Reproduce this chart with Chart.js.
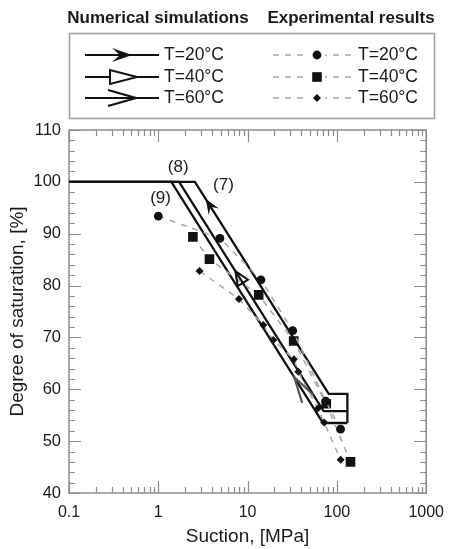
<!DOCTYPE html>
<html>
<head>
<meta charset="utf-8">
<script src="https://cdn.jsdelivr.net/npm/chart.js@4.4.1/dist/chart.umd.min.js"></script>
<style>
  html, body { margin: 0; padding: 0; background: #fff; }
  canvas { display: block; }
</style>
</head>
<body>
<canvas id="chart" width="454" height="549"></canvas>
<script>
// Numerical simulations: suction [MPa] and degree of saturation [%]
const sim20Suction = [0.1, 2.57, 81, 131, 131];
const sim20Sr = [100, 100, 59.1, 59.1, 53.5];
const sim40Suction = [0.1, 1.71, 71, 131];
const sim40Sr = [100, 100, 55.8, 55.8];
const sim60Suction = [0.1, 1.40, 70, 131];
const sim60Sr = [100, 100, 53.5, 53.5];
// suction at which each simulated path shows its direction arrow
const arrowSuction = [3.4, 7.3, 33.3];

// Experimental results
const exp20Suction = [1.0, 4.9, 14.1, 32, 75, 110];
const exp20Sr = [93.4, 89.1, 81.1, 71.3, 57.7, 52.3];
const exp40Suction = [2.44, 3.74, 13.3, 32.8, 76, 142];
const exp40Sr = [89.4, 85.1, 78.2, 69.3, 57.2, 46];
const exp60Suction = [2.9, 8.0, 15, 19.4, 33, 37, 61, 72, 110];
const exp60Sr = [82.8, 77.4, 72.4, 69.5, 65.8, 63.4, 56.3, 53.6, 46.4];

const tempLabels = ['T=20°C', 'T=40°C', 'T=60°C'];
const xTickLabels = ['0.1', '1', '10', '100', '1000'];
const yTickLabels = ['40', '50', '60', '70', '80', '90', '100', '110'];

const FONT = "'Liberation Sans', Arial, Helvetica, sans-serif";
const TEXT = '#1a1a1a';
const AXIS = '#8c8c8c';

const toPts = (xs, ys) => xs.map((x, i) => ({ x: x, y: ys[i] }));

// tick positions: decades plus 2..9 minors on x, every 2 % on y
const xDecades = xTickLabels.map(Number);
const xTicks = [];
xDecades.forEach((d, i) => {
    xTicks.push(d);
    if (i < xDecades.length - 1) for (let k = 2; k <= 9; k++) xTicks.push(k * d);
});
const yMajor = yTickLabels.map(Number);
const yTicks = [];
for (let v = yMajor[0]; v <= yMajor[yMajor.length - 1]; v += 2) yTicks.push(v);

// text markers on the plot
const notes = [
    { text: '(7)', x: 5.37, y: 99.4 },
    { text: '(8)', x: 1.67, y: 102.9 },
    { text: '(9)', x: 1.06, y: 96.9 }
];

function drawArrow(ctx, x, y, angle, style, L, W, color, fillOpen) {
    ctx.save();
    ctx.translate(x, y);
    ctx.rotate(angle);
    ctx.beginPath();
    if (style === 'stealth') {
        ctx.moveTo(0, 0);
        ctx.lineTo(-L, -W);
        ctx.lineTo(-0.6 * L, 0);
        ctx.lineTo(-L, W);
        ctx.closePath();
        ctx.fillStyle = color;
        ctx.fill();
    } else if (style === 'open') {
        ctx.moveTo(0, 0);
        ctx.lineTo(-L, -W);
        ctx.lineTo(-L, W);
        ctx.closePath();
        if (fillOpen) { ctx.fillStyle = '#fff'; ctx.fill(); }
        ctx.lineWidth = 2;
        ctx.strokeStyle = color;
        ctx.stroke();
    } else {
        ctx.moveTo(-L, -W);
        ctx.lineTo(0, 0);
        ctx.lineTo(-L, W);
        ctx.lineWidth = 2.2;
        ctx.lineJoin = 'miter';
        ctx.strokeStyle = color;
        ctx.stroke();
    }
    ctx.restore();
}

// box around the plot with inward ticks on all four sides
const framePlugin = {
    id: 'frame',
    beforeDatasetsDraw(chart) {
        const { ctx, chartArea: a, scales: { x, y } } = chart;
        ctx.save();
        ctx.strokeStyle = AXIS;
        ctx.lineWidth = 1.5;
        ctx.strokeRect(a.left, a.top, a.right - a.left, a.bottom - a.top);
        ctx.lineWidth = 1.2;
        ctx.beginPath();
        xTicks.forEach(v => {
            const px = Math.round(x.getPixelForValue(v)) + 0.5;
            const len = xDecades.includes(v) ? 12 : 6;
            ctx.moveTo(px, a.bottom); ctx.lineTo(px, a.bottom - len);
            ctx.moveTo(px, a.top); ctx.lineTo(px, a.top + len);
        });
        yTicks.forEach(v => {
            const py = Math.round(y.getPixelForValue(v)) + 0.5;
            const len = yMajor.includes(v) ? 12 : 6;
            ctx.moveTo(a.left, py); ctx.lineTo(a.left + len, py);
            ctx.moveTo(a.right, py); ctx.lineTo(a.right - len, py);
        });
        ctx.stroke();
        ctx.restore();
    }
};

// direction arrows on the simulated paths and the (7)(8)(9) markers
const arrowPlugin = {
    id: 'pathArrows',
    afterDatasetsDraw(chart) {
        const { ctx, scales: { x, y } } = chart;
        chart.data.datasets.forEach(ds => {
            if (ds.arrowAt === undefined) return;
            const pts = ds.data;
            for (let i = 1; i < pts.length; i++) {
                const p0 = pts[i - 1], p1 = pts[i];
                if (ds.arrowAt < p0.x || ds.arrowAt > p1.x || p0.x === p1.x) continue;
                const x0 = x.getPixelForValue(p0.x), y0 = y.getPixelForValue(p0.y);
                const x1 = x.getPixelForValue(p1.x), y1 = y.getPixelForValue(p1.y);
                const px = x.getPixelForValue(ds.arrowAt);
                const t = (px - x0) / (x1 - x0);
                const py = y0 + t * (y1 - y0);
                const ang = Math.atan2(y0 - y1, x0 - x1);
                drawArrow(ctx, px, py, ang, ds.arrowStyle, ds.arrowLen, ds.arrowWidth, ds.arrowColor, false);
                break;
            }
        });
        ctx.save();
        ctx.font = '17px ' + FONT;
        ctx.fillStyle = TEXT;
        ctx.textAlign = 'center';
        ctx.textBaseline = 'middle';
        notes.forEach(n => ctx.fillText(n.text, x.getPixelForValue(n.x), y.getPixelForValue(n.y)));
        ctx.restore();
    }
};

// two-column boxed legend above the plot
const legendPlugin = {
    id: 'boxLegend',
    afterDraw(chart) {
        const { ctx } = chart;
        const sims = chart.data.datasets.filter(d => d.arrowStyle);
        const exps = chart.data.datasets.filter(d => !d.arrowStyle);
        const rows = [55, 77, 98];
        ctx.save();
        ctx.fillStyle = TEXT;
        ctx.textBaseline = 'middle';
        ctx.textAlign = 'center';
        ctx.font = 'bold 17px ' + FONT;
        ctx.fillText('Numerical simulations', 158, 18);
        ctx.fillText('Experimental results', 351, 18);

        ctx.strokeStyle = '#9a9a9a';
        ctx.lineWidth = 1.5;
        ctx.strokeRect(69.5, 33.5, 365, 85);

        ctx.font = '17.5px ' + FONT;
        ctx.textAlign = 'left';
        const legendArrow = {
            stealth: { tip: 132, L: 20, W: 7 },
            open: { tip: 137, L: 27, W: 7 },
            chevron: { tip: 136, L: 28, W: 8 }
        };
        sims.forEach((ds, i) => {
            const ry = rows[i];
            ctx.strokeStyle = '#111';
            ctx.lineWidth = 2.2;
            ctx.beginPath();
            ctx.moveTo(85, ry); ctx.lineTo(159, ry);
            ctx.stroke();
            const a = legendArrow[ds.arrowStyle];
            drawArrow(ctx, a.tip, ry, 0, ds.arrowStyle, a.L, a.W, '#111', true);
            ctx.fillStyle = TEXT;
            ctx.fillText(ds.label, 164, ry);
        });
        exps.forEach((ds, i) => {
            const ry = rows[i];
            ctx.save();
            ctx.strokeStyle = ds.borderColor;
            ctx.lineWidth = ds.borderWidth;
            ctx.setLineDash(ds.borderDash);
            ctx.beginPath();
            ctx.moveTo(273, ry); ctx.lineTo(352, ry);
            ctx.stroke();
            ctx.restore();
            ctx.fillStyle = '#fff';
            ctx.fillRect(309, ry - 7, 16, 14);
            Chart.helpers.drawPoint(ctx, {
                pointStyle: ds.pointStyle, radius: ds.pointRadius, borderWidth: 0, rotation: 0
            }, 317, ry);
            ctx.fillStyle = '#111';
            ctx.fill();
            ctx.fillStyle = TEXT;
            ctx.fillText(ds.label, 358, ry);
        });
        ctx.restore();
    }
};

const expStyle = {
    showLine: true,
    borderColor: '#a8a8a8',
    borderWidth: 1.5,
    borderDash: [6, 6],
    pointBackgroundColor: '#111',
    pointBorderColor: '#111',
    pointBorderWidth: 0
};
const simStyle = {
    showLine: true,
    borderColor: '#111',
    borderWidth: 2.3,
    pointRadius: 0,
    arrowColor: '#111'
};

new Chart(document.getElementById('chart'), {
    type: 'scatter',
    data: {
        datasets: [
            Object.assign({ label: tempLabels[0], data: toPts(exp20Suction, exp20Sr), pointStyle: 'circle', pointRadius: 4.4 }, expStyle),
            Object.assign({ label: tempLabels[1], data: toPts(exp40Suction, exp40Sr), pointStyle: 'rect', pointRadius: 6.8 }, expStyle),
            Object.assign({ label: tempLabels[2], data: toPts(exp60Suction, exp60Sr), pointStyle: 'rectRot', pointRadius: 4 }, expStyle),
            Object.assign({}, simStyle, { label: tempLabels[0], data: toPts(sim20Suction, sim20Sr), arrowAt: arrowSuction[0], arrowStyle: 'stealth', arrowLen: 15, arrowWidth: 6 }),
            Object.assign({}, simStyle, { label: tempLabels[1], data: toPts(sim40Suction, sim40Sr), arrowAt: arrowSuction[1], arrowStyle: 'open', arrowLen: 14, arrowWidth: 6 }),
            Object.assign({}, simStyle, { label: tempLabels[2], data: toPts(sim60Suction, sim60Sr), arrowAt: arrowSuction[2], arrowStyle: 'chevron', arrowLen: 26, arrowWidth: 7, arrowColor: '#555' })
        ]
    },
    options: {
        responsive: false,
        animation: false,
        devicePixelRatio: 1,
        layout: { padding: { top: 130, right: 22, left: 0, bottom: 0 } },
        plugins: { legend: { display: false }, tooltip: { enabled: false } },
        scales: {
            x: {
                type: 'logarithmic',
                min: 0.1,
                max: 1000,
                grid: { display: false, drawTicks: false },
                border: { display: false },
                afterBuildTicks: s => { s.ticks = xTicks.map(v => ({ value: v })); },
                afterFit: s => { s.height = 56; },
                ticks: {
                    autoSkip: false,
                    maxRotation: 0,
                    padding: 10,
                    color: TEXT,
                    font: { family: FONT, size: 16 },
                    callback: v => {
                        const i = xDecades.indexOf(v);
                        return i >= 0 ? xTickLabels[i] : '';
                    }
                },
                title: {
                    display: true,
                    text: 'Suction, [MPa]',
                    color: TEXT,
                    font: { family: FONT, size: 19 },
                    padding: { top: 0, bottom: 1 }
                }
            },
            y: {
                min: 40,
                max: 110,
                grid: { display: false, drawTicks: false },
                border: { display: false },
                afterBuildTicks: s => { s.ticks = yTicks.map(v => ({ value: v })); },
                afterFit: s => { s.width = 69; },
                ticks: {
                    autoSkip: false,
                    padding: 8,
                    color: TEXT,
                    font: { family: FONT, size: 16.5 },
                    callback: v => {
                        const i = yMajor.indexOf(v);
                        return i >= 0 ? yTickLabels[i] : '';
                    }
                },
                title: {
                    display: true,
                    text: 'Degree of saturation, [%]',
                    color: TEXT,
                    font: { family: FONT, size: 19 },
                    padding: { top: 6, bottom: 0 }
                }
            }
        }
    },
    plugins: [framePlugin, arrowPlugin, legendPlugin]
});
</script>
</body>
</html>
